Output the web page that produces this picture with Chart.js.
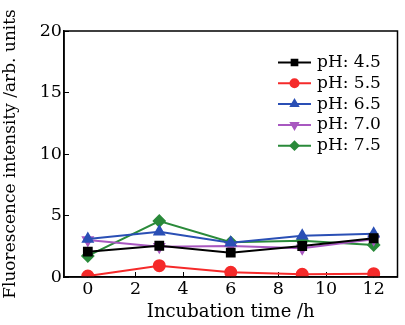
<!DOCTYPE html>
<html><head><meta charset="utf-8">
<script src="https://cdn.jsdelivr.net/npm/chart.js@4"></script>
<style>html,body{margin:0;padding:0;background:#fff}#w{width:405px;height:325px}</style>
</head><body><div id="w"><canvas id="c"></canvas></div>
<script>
const times = [0, 3, 6, 9, 12];
const seriesNames = ['pH: 4.5', 'pH: 5.5', 'pH: 6.5', 'pH: 7.0', 'pH: 7.5'];
const ph45 = [2.06, 2.54, 1.98, 2.52, 3.15];
const ph55 = [0.08, 0.92, 0.38, 0.22, 0.27];
const ph65 = [3.09, 3.68, 2.79, 3.36, 3.52];
const ph70 = [3.0, 2.46, 2.52, 2.33, 3.07];
const ph75 = [1.71, 4.55, 2.82, 2.95, 2.6];
const xTicks = [0, 2, 4, 6, 8, 10, 12];
const yTicks = [0, 5, 10, 15, 20];

const colors = ['#000000', '#f52a2a', '#2a4fb5', '#a858c0', '#2a8a3a'];
const styles = ['rect', 'circle', 'triangle', 'triangle', 'rectRot'];
const rots = [0, 0, 0, 180, 0];
const values = [ph45, ph55, ph65, ph70, ph75];
const FONT = '"DejaVu Serif", "Liberation Serif", serif';

const datasets = values.map((v, i) => ({
  label: seriesNames[i],
  data: times.map((t, j) => ({x: t, y: v[j]})),
  borderColor: colors[i], backgroundColor: colors[i],
  borderWidth: 2, pointStyle: styles[i], rotation: rots[i],
  pointRadius: 5.5, pointHoverRadius: 5.5
}));

const legendPlugin = {
  id: 'customLegend',
  afterDraw(chart) {
    const ctx = chart.ctx;
    const x0 = 278, x1 = 311, tx = 317;
    let y = 62.5;
    ctx.save();
    chart.data.datasets.forEach((ds, i) => {
      ctx.strokeStyle = ds.borderColor; ctx.lineWidth = 2;
      ctx.beginPath(); ctx.moveTo(x0, y); ctx.lineTo(x1, y); ctx.stroke();
      ctx.fillStyle = ds.backgroundColor;
      Chart.helpers.drawPoint(ctx, {pointStyle: ds.pointStyle, rotation: ds.rotation, radius: 4, borderWidth: 1}, (x0 + x1) / 2, y);
      ctx.fillStyle = '#000'; ctx.font = '17px ' + FONT;
      ctx.textBaseline = 'middle'; ctx.textAlign = 'left';
      ctx.fillText(ds.label, tx, y);
      y += 20.8;
    });
    ctx.restore();
  }
};

const frame = {
  id: 'frame',
  afterDraw(chart) {
    const a = chart.chartArea, ctx = chart.ctx;
    ctx.save(); ctx.strokeStyle = '#000'; ctx.lineWidth = 1.5;
    ctx.strokeRect(a.left, a.top, a.right - a.left, a.bottom - a.top);
    ctx.restore();
  }
};

new Chart(document.getElementById('c'), {
  type: 'line',
  data: {datasets},
  options: {
    responsive: true, maintainAspectRatio: false, animation: false,
    layout: {padding: {top: 31, right: 5, bottom: 0, left: 0}},
    plugins: {legend: {display: false}, tooltip: {enabled: false}},
    scales: {
      x: {
        type: 'linear', min: -1, max: 13,
        afterBuildTicks: s => { s.ticks = xTicks.map(v => ({value: v})); },
        afterFit: s => { s.height = 48; },
        grid: {display: true, drawOnChartArea: false, tickLength: -5, color: '#000', tickWidth: 1},
        border: {display: true, color: '#000', width: 1.5},
        ticks: {color: '#000', font: {family: FONT, size: 17.5}, padding: 7},
        title: {display: true, text: 'Incubation time /h', color: '#000', font: {family: FONT, size: 18}, padding: {top: 0, bottom: 2}}
      },
      y: {
        min: 0, max: 20,
        afterBuildTicks: s => { s.ticks = yTicks.map(v => ({value: v})); },
        afterFit: s => { s.width = 64; },
        grid: {display: true, drawOnChartArea: false, tickLength: -5, color: '#000', tickWidth: 1},
        border: {display: true, color: '#000', width: 1.5},
        ticks: {color: '#000', font: {family: FONT, size: 17.5}, padding: 7},
        title: {display: true, text: 'Fluorescence intensity /arb. units', color: '#000', font: {family: FONT, size: 17}, padding: {top: 0, bottom: 0}}
      }
    }
  },
  plugins: [legendPlugin, frame]
});
</script></body></html>
